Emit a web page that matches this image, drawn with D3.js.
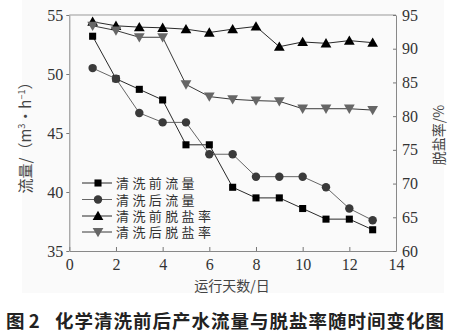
<!DOCTYPE html>
<html lang="zh-CN"><head><meta charset="utf-8">
<script src="https://cdn.jsdelivr.net/npm/d3@7"></script>
<style>html,body{margin:0;padding:0;background:#fff;}svg{display:block;}</style>
</head><body>
<svg id="chart" width="452" height="334"></svg>
<script>
const days = [1,2,3,4,5,6,7,8,9,10,11,12,13];
const flowBefore = [53.2,49.6,48.7,47.8,44.0,44.0,40.4,39.5,39.5,38.6,37.7,37.7,36.8];
const flowAfter  = [50.5,49.6,46.7,45.9,45.9,43.2,43.2,41.3,41.3,41.3,40.4,38.6,37.6];
const rejBefore  = [94.0,93.4,93.2,93.1,92.9,92.4,92.9,93.3,90.3,91.0,90.8,91.2,90.9];
const rejAfter   = [93.4,92.7,91.7,91.7,84.7,82.9,82.5,82.3,82.2,81.1,81.1,81.1,80.9];
const xTicks = [0,2,4,6,8,10,12,14];
const yLeftTicks = [35,40,45,50,55];
const yRightTicks = [60,65,70,75,80,85,90,95];
const seriesNames = ["清洗前流量","清洗后流量","清洗前脱盐率","清洗后脱盐率"];

const svg = d3.select("#chart");
const L = 69.3, R = 396, T = 15, B = 251;
svg.append("rect").attr("x",22).attr("y",0).attr("width",422).attr("height",293).attr("fill","#fafafa");

const x = d3.scaleLinear().domain([0,14]).range([L,R]);
const yL = d3.scaleLinear().domain([35,55]).range([B,T]);
const yR = d3.scaleLinear().domain([60,95]).range([B,T]);

const serif = "'Liberation Serif','Times New Roman',serif";
svg.append("line").attr("x1",L).attr("x2",R).attr("y1",T).attr("y2",T).attr("stroke","#999").attr("stroke-width",1);

const gx = svg.append("g").attr("transform",`translate(0,${B})`)
  .call(d3.axisBottom(x).tickValues(xTicks).tickSize(-4).tickPadding(8).tickSizeOuter(0));
const gl = svg.append("g").attr("transform",`translate(${L},0)`)
  .call(d3.axisLeft(yL).tickValues(yLeftTicks).tickSize(3).tickPadding(3).tickSizeOuter(0));
const gr = svg.append("g").attr("transform",`translate(${R},0)`)
  .call(d3.axisRight(yR).tickValues(yRightTicks).tickSize(-3).tickPadding(6).tickSizeOuter(0));
[gx,gl,gr].forEach(g=>{
  g.selectAll("path.domain").attr("stroke","#888");
  g.selectAll(".tick line").attr("stroke","#777");
  g.selectAll(".tick text").attr("font-family",serif).attr("font-size",16).attr("fill","#333");
});

const specs = [
  {vals:flowBefore, y:yL, sym:d3.symbolSquare, size:50, fill:"#000", line:"#111", rot:0},
  {vals:flowAfter,  y:yL, sym:d3.symbolCircle, size:56, fill:"#3a3a3a", line:"#555", rot:0},
  {vals:rejBefore,  y:yR, sym:d3.symbolTriangle, size:50, fill:"#000", line:"#111", rot:0},
  {vals:rejAfter,   y:yR, sym:d3.symbolTriangle, size:50, fill:"#666", line:"#222", rot:180},
];
specs.forEach(s=>{
  const pts = days.map((d,i)=>[x(d), s.y(s.vals[i])]);
  svg.append("path").attr("d", d3.line()(pts)).attr("fill","none").attr("stroke",s.line).attr("stroke-width",0.9);
  svg.selectAll(null).data(pts).enter().append("path")
    .attr("d", d3.symbol().type(s.sym).size(s.size)())
    .attr("transform", p=>`translate(${p[0]},${p[1]+(s.sym===d3.symbolTriangle?(s.rot?-1:1):0)}) rotate(${s.rot})`)
    .attr("fill", s.fill);
});

// legend
const legY = [183,199.5,216,232];
specs.forEach((s,i)=>{
  const g = svg.append("g").attr("transform",`translate(0,${legY[i]})`);
  g.append("line").attr("x1",82).attr("x2",112).attr("y1",0).attr("y2",0).attr("stroke",s.line).attr("stroke-width",0.9);
  g.append("path").attr("d", d3.symbol().type(s.sym).size(s.size)())
    .attr("transform",`translate(98,${s.sym===d3.symbolTriangle?(s.rot?-1:1):0}) rotate(${s.rot})`).attr("fill",s.fill);
  g.append("text").attr("x",116).attr("y",0).attr("dy","0.4em")
    .attr("font-family","'Liberation Serif','Noto Sans CJK SC',serif").attr("font-size",13).attr("letter-spacing",3.4)
    .attr("fill","#333").text(seriesNames[i]);
});

// axis titles
const yl = svg.append("text").attr("transform","translate(31,134) rotate(-90)").attr("text-anchor","middle")
  .attr("font-family","'Noto Sans CJK SC',sans-serif").attr("font-size",15).attr("fill","#444");
yl.append("tspan").text("流量/（m");
yl.append("tspan").attr("font-size",9).attr("dy",-6).text("3");
yl.append("tspan").attr("dy",6).text("·h");
yl.append("tspan").attr("font-size",9).attr("dy",-6).text("−1");
yl.append("tspan").attr("dy",6).text("）");

svg.append("text").attr("transform","translate(444,135) rotate(-90)").attr("text-anchor","middle")
  .attr("font-family","'Noto Sans CJK SC',sans-serif").attr("font-size",14).attr("fill","#444").text("脱盐率/%");

svg.append("text").attr("x",232).attr("y",291).attr("text-anchor","middle")
  .attr("font-family","'Noto Sans CJK SC',sans-serif").attr("font-size",14).attr("fill","#444").text("运行天数/日");

const cap = svg.append("text").attr("x",6).attr("y",328)
  .attr("font-family","'Noto Sans CJK SC',sans-serif").attr("font-size",18.5).attr("font-weight","bold").attr("fill","#222");
cap.append("tspan").text("图 2");
cap.append("tspan").attr("x",55).attr("letter-spacing",1).text("化学清洗前后产水流量与脱盐率随时间变化图");
</script>
</body></html>
